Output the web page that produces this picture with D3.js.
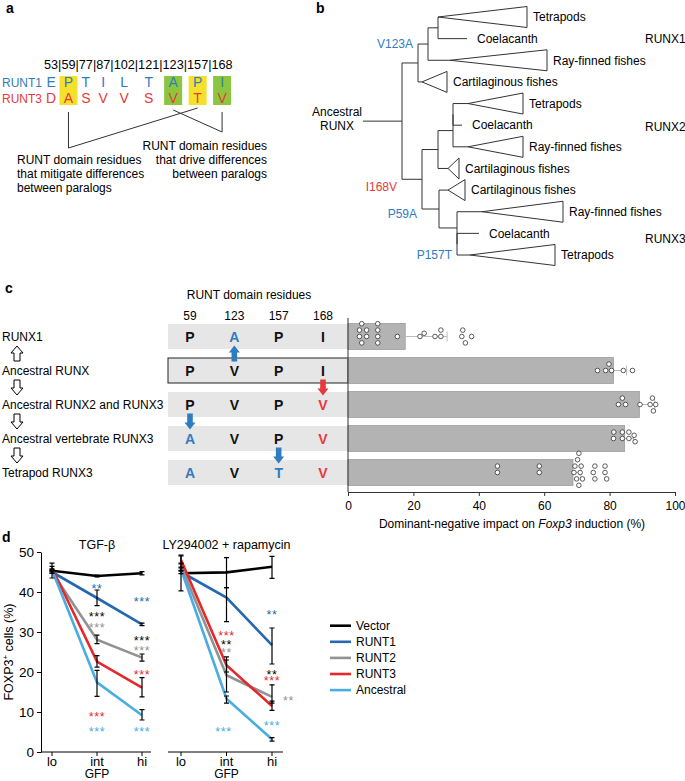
<!DOCTYPE html>
<html>
<head>
<meta charset="utf-8">
<script src="https://cdn.jsdelivr.net/npm/d3@7"></script>
<style>
body { margin: 0; background: #fff; }
svg { font-family: "Liberation Sans", Arial, sans-serif; }
</style>
</head>
<body>
<svg width="685" height="781"></svg>
<script>
// ---------- panel a data ----------
var sitePositions = ['53', '59', '77', '87', '102', '121', '123', '157', '168'];
var runt1Residues = ['E', 'P', 'T', 'I', 'L', 'T', 'A', 'P', 'I'];
var runt3Residues = ['D', 'A', 'S', 'V', 'V', 'S', 'V', 'T', 'V'];
var siteGroup = ['', 'mitigate', '', '', '', '', 'drive', 'mitigate', 'drive'];

// ---------- panel b data ----------
var leafNames = ['Tetrapods', 'Coelacanth', 'Ray-finned fishes', 'Cartilaginous fishes',
                 'Tetrapods', 'Coelacanth', 'Ray-finned fishes', 'Cartilaginous fishes',
                 'Cartilaginous fishes', 'Ray-finned fishes', 'Coelacanth', 'Tetrapods'];
var cladeNames = ['RUNX1', 'RUNX2', 'RUNX3'];
var cladeAtLeaf = [1.0, 5.05, 10.25];
// d = distance from the stem, end = far edge of a collapsed clade
var tree = {d: 19.5, children: [
  {d: 27.5, children: [
    {d: 32.5, mut: 'V123A', children: [
      {d: 37.5, children: [{leaf: 0, d: 37.5, end: 82}, {leaf: 1, d: 52}]},
      {leaf: 2, d: 43.5, end: 92}
    ]},
    {leaf: 3, d: 29.5, end: 42}
  ]},
  {d: 29.5, mut: 'I168V', children: [
    {d: 37.5, children: [
      {d: 45, children: [
        {d: 45, children: [{leaf: 4, d: 52.5, end: 80}, {leaf: 5, d: 49.5}]},
        {leaf: 6, d: 52.5, end: 80}
      ]},
      {leaf: 7, d: 42.5, end: 48}
    ]},
    {d: 38, mut: 'P59A', children: [
      {leaf: 8, d: 42.5, end: 51},
      {d: 47, children: [
        {leaf: 9, d: 59.5, end: 100},
        {d: 47, children: [{leaf: 10, d: 58}, {leaf: 11, d: 53.5, end: 96, mut: 'P157T'}]}
      ]}
    ]}
  ]}
]};
var mutationColour = {V123A: 'blue', I168V: 'red', P59A: 'blue', P157T: 'blue'};

// ---------- panel c data ----------
var residueSites = ['59', '123', '157', '168'];
var lineages = ['RUNX1', 'Ancestral RUNX', 'Ancestral RUNX2 and RUNX3', 'Ancestral vertebrate RUNX3', 'Tetrapod RUNX3'];
var lineageResidues = [['P', 'A', 'P', 'I'], ['P', 'V', 'P', 'I'], ['P', 'V', 'P', 'V'], ['A', 'V', 'P', 'V'], ['A', 'V', 'T', 'V']];
var residueTone = [['k', 'b', 'k', 'k'], ['k', 'k', 'k', 'k'], ['k', 'k', 'k', 'r'], ['b', 'k', 'k', 'r'], ['b', 'k', 'b', 'r']];
// substitutions: site, from lineage, to lineage, tone
var substitutions = [['123', 1, 0, 'b'], ['168', 1, 2, 'r'], ['59', 2, 3, 'b'], ['157', 3, 4, 'b']];
var impactMean = [17.5, 81.2, 89.1, 84.6, 68.8];
var impactErr = [30.3, 85.2, 93.8, 87.3, 71.2];
var impactPoints = [
  [3.5, 3.5, 4.2, 4.2, 5.7, 5.7, 9.1, 9.1, 9.1, 9.1, 15.1, 22.0, 23.3, 26.6, 28.4, 28.4, 34.8, 35.1, 35.9, 37.8],
  [76.3, 78.8, 79.8, 80.6, 84.2, 87.0],
  [82.7, 83.9, 84.9, 89.3, 92.4, 93.1, 93.4, 94.1],
  [81.2, 81.3, 83.9, 83.9, 85.9, 85.9, 87.5, 87.8],
  [45.7, 45.7, 58.5, 58.5, 69.1, 69.4, 69.9, 70.2, 70.6, 70.6, 71.0, 71.3, 71.7, 75.0, 75.5, 75.5, 78.6, 78.6, 79.1]
];
var impactTicks = [0, 20, 40, 60, 80, 100];

// ---------- panel d data ----------
var gfpLevels = ['lo', 'int', 'hi'];
var constructs = ['Vector', 'RUNT1', 'RUNT2', 'RUNT3', 'Ancestral'];
var foxp3Ticks = [0, 10, 20, 30, 40, 50];
var tgfMean = [[45.3, 44.0, 44.7], [45.0, 38.5, 31.9], [45.0, 28.1, 23.6], [46.0, 22.6, 16.1], [45.5, 17.4, 9.2]];
var tgfLow  = [[43.5, 43.8, 44.3], [44.7, 36.6, 31.6], [44.7, 27.1, 22.7], [45.6, 21.2, 13.8], [45.2, 13.9, 8.0]];
var tgfHigh = [[47.2, 44.2, 45.1], [45.3, 40.5, 32.2], [45.3, 29.2, 24.5], [46.4, 24.1, 18.6], [45.8, 20.4, 10.6]];
var lyMean = [[44.7, 44.9, 46.3], [45.0, 38.6, 26.7], [46.5, 19.2, 13.8], [48.0, 21.7, 11.5], [45.7, 13.3, 3.2]];
var lyLow  = [[40.3, 41.1, 43.4], [44.6, 32.6, 22.0], [46.0, 15.0, 12.2], [47.2, 20.0, 10.4], [45.2, 12.2, 2.7]];
var lyHigh = [[49.0, 48.6, 48.9], [45.4, 41.1, 31.0], [47.0, 23.0, 16.8], [49.2, 23.8, 12.7], [46.2, 14.0, 3.6]];
// stars: level, construct colour, text, height (%)
var tgfStars = [[1, 1, '**', 41.5], [1, 0, '***', 34.5], [1, 2, '***', 31.75], [1, 3, '***', 9.4], [1, 4, '***', 5.7],
                [2, 1, '***', 38.2], [2, 0, '***', 28.6], [2, 2, '***', 26.1], [2, 3, '***', 19.9], [2, 4, '***', 5.7]];
var lyStars = [[1, 3, '***', 29.7], [1, 0, '**', 27.6], [1, 2, '**', 25.5], [1, 4, '***', 5.75],
               [2, 1, '**', 35.1], [2, 0, '**', 20.1], [2, 3, '***', 18.4], [2, 2, '**', 13.4], [2, 4, '***', 7.2]];
var lyStarShift = [0, 0, 0, -3, 0, 0, 0, 11, 0];

var blue = '#2f7cc0', red = '#e6393a';
var tone = {k: '#111', b: blue, r: red};
var constructColour = ['#000', '#2568b0', '#929292', '#e5282c', '#48ade2'];

var svg = d3.select('svg');

function panelLetter(x, y, s) {
  svg.append('text').attr('x', x).attr('y', y)
    .style('font-weight', 'bold').style('font-size', '14px').text(s);
}

// ================= panel a =================
panelLetter(6, 13, 'a');
var header = svg.append('text')
    .attr('x', 44).attr('y', 69)
    .style('font-size', '12.7px')
    .text(sitePositions.join('|'));
var siteX = [], charPos = 0;
sitePositions.forEach(function(s) {
  var n = header.node();
  var x0 = n.getStartPositionOfChar(charPos).x;
  var x1 = n.getEndPositionOfChar(charPos + s.length - 1).x;
  siteX.push((x0 + x1) / 2);
  charPos += s.length + 1;
});

svg.selectAll('.sitebox')
    .data(siteGroup.map(function(g, i) { return {g: g, i: i}; }).filter(function(d) { return d.g; }))
  .enter().append('rect')
    .attr('x', function(d) { return siteX[d.i] - 9; })
    .attr('y', 76)
    .attr('width', 18)
    .attr('height', 29)
    .style('fill', function(d) { return d.g == 'mitigate' ? '#f5e12c' : '#8cc63f'; });

svg.append('text').attr('x', 2).attr('y', 86.5).style('font-size', '12px').style('fill', blue).text('RUNT1');
svg.append('text').attr('x', 2).attr('y', 102.5).style('font-size', '12px').style('fill', red).text('RUNT3');

[[runt1Residues, 87, blue], [runt3Residues, 103, red]].forEach(function(r) {
  svg.selectAll(null).data(r[0]).enter().append('text')
      .attr('x', function(d, i) { return siteX[i]; })
      .attr('y', r[1])
      .attr('text-anchor', 'middle')
      .style('font-size', '14px')
      .style('fill', r[2])
      .text(function(d) { return d; });
});

var mit = [], drv = [];
siteGroup.forEach(function(g, i) { if (g == 'mitigate') mit.push(siteX[i]); if (g == 'drive') drv.push(siteX[i]); });
svg.append('path')
    .attr('d', 'M' + mit[0] + ',112V148L' + mit[1] + ',108')
    .style('fill', 'none').style('stroke', '#333').style('stroke-width', 1);
svg.append('path')
    .attr('d', 'M' + drv[0] + ',110L' + drv[1] + ',132V112')
    .style('fill', 'none').style('stroke', '#333').style('stroke-width', 1);

['RUNT domain residues', 'that drive differences', 'between paralogs'].forEach(function(t, i) {
  svg.append('text').attr('x', 267).attr('y', 150 + i * 14)
      .attr('text-anchor', 'end').style('font-size', '12px').text(t);
});
['RUNT domain residues', 'that mitigate differences', 'between paralogs'].forEach(function(t, i) {
  svg.append('text').attr('x', 17).attr('y', 164 + i * 14)
      .style('font-size', '12px').text(t);
});

// ================= panel b =================
panelLetter(316, 13, 'b');
var tx = d3.scaleLinear().domain([0, 100]).range([363, 563]);
var ty = d3.scaleLinear().domain([0, 11]).range([17, 255]);
var root = d3.hierarchy(tree);
root.eachAfter(function(n) {
  n.y = n.children ? d3.mean(n.children, function(c) { return c.y; }) : ty(n.data.leaf);
});
var gb = svg.append('g').style('stroke', '#333').style('stroke-width', 1).style('fill', 'none');
gb.append('line').attr('x1', tx(0)).attr('x2', tx(root.data.d)).attr('y1', root.y).attr('y2', root.y);
root.descendants().filter(function(n) { return n.children; }).forEach(function(n) {
  var ys = n.children.map(function(c) { return c.y; });
  gb.append('line').attr('x1', tx(n.data.d)).attr('x2', tx(n.data.d))
      .attr('y1', d3.min(ys)).attr('y2', d3.max(ys));
});
root.links().forEach(function(l) {
  gb.append('line').attr('x1', tx(l.source.data.d)).attr('x2', tx(l.target.data.d))
      .attr('y1', l.target.y).attr('y2', l.target.y);
});
root.leaves().forEach(function(n) {
  var labelX;
  if (n.data.end) {
    var ax = tx(n.data.d), bx = tx(n.data.end);
    gb.append('path')
        .attr('d', 'M' + ax + ',' + n.y + 'L' + bx + ',' + (n.y - 10.5) + 'V' + (n.y + 10.5) + 'Z');
    labelX = bx + 6;
  } else {
    labelX = tx(n.data.d) + 10;
  }
  svg.append('text').attr('x', labelX).attr('y', n.y + 4.3)
      .style('font-size', '12px').text(leafNames[n.data.leaf]);
});
var mutNudge = {I168V: 7, P59A: 4.5};
root.descendants().filter(function(n) { return n.data.mut; }).forEach(function(n) {
  svg.append('text')
      .attr('x', tx(n.parent.data.d) - 5)
      .attr('y', n.y + 4.3 + (mutNudge[n.data.mut] || 0))
      .attr('text-anchor', 'end')
      .style('font-size', '12px')
      .style('fill', mutationColour[n.data.mut] == 'red' ? red : blue)
      .text(n.data.mut);
});
svg.append('text').attr('x', 337).attr('y', 116).attr('text-anchor', 'middle').style('font-size', '12px').text('Ancestral');
svg.append('text').attr('x', 337).attr('y', 130).attr('text-anchor', 'middle').style('font-size', '12px').text('RUNX');
cladeNames.forEach(function(c, i) {
  svg.append('text').attr('x', 645).attr('y', ty(cladeAtLeaf[i]) + 4.3).style('font-size', '12px').text(c);
});

// ================= panel c =================
panelLetter(5, 293, 'c');
var colX = d3.scalePoint().domain(residueSites).range([190, 323]);
var rowY = d3.scalePoint().domain(lineages).range([336.5, 472.5]);
var xImpact = d3.scaleLinear().domain([0, 100]).range([348, 675]);

svg.append('text').attr('x', 249).attr('y', 299).attr('text-anchor', 'middle')
    .style('font-size', '12px').text('RUNT domain residues');
svg.selectAll(null).data(residueSites).enter().append('text')
    .attr('x', function(d) { return colX(d); })
    .attr('y', 319.5)
    .attr('text-anchor', 'middle')
    .style('font-size', '12px')
    .text(function(d) { return d; });

svg.selectAll(null).data(lineages).enter().append('rect')
    .attr('x', 168)
    .attr('y', function(d) { return rowY(d) - 12.5; })
    .attr('width', xImpact(0) - 168)
    .attr('height', 25)
    .style('fill', '#e6e6e6')
    .style('stroke', function(d, i) { return i == 1 ? '#222' : 'none'; })
    .style('stroke-width', 1);

lineages.forEach(function(l, i) {
  svg.append('text').attr('x', 2).attr('y', rowY(l) + 4.3).style('font-size', '12px').text(l);
  svg.selectAll(null).data(lineageResidues[i]).enter().append('text')
      .attr('x', function(d, j) { return colX(residueSites[j]); })
      .attr('y', rowY(l) + 5)
      .attr('text-anchor', 'middle')
      .style('font-size', '14px')
      .style('font-weight', 'bold')
      .style('fill', function(d, j) { return tone[residueTone[i][j]]; })
      .text(function(d) { return d; });
});

function arrowPath(cx, cy, dir, len, headW, headL, shaftW) {
  var t = cy - dir * len / 2, b = cy + dir * len / 2, h = t + dir * headL;
  return 'M' + cx + ',' + t + 'L' + (cx + headW) + ',' + h + 'L' + (cx + shaftW) + ',' + h +
    'L' + (cx + shaftW) + ',' + b + 'L' + (cx - shaftW) + ',' + b + 'L' + (cx - shaftW) + ',' + h +
    'L' + (cx - headW) + ',' + h + 'Z';
}
// hollow lineage arrows
for (var i = 0; i < lineages.length - 1; i++) {
  var mid = (rowY(lineages[i]) + rowY(lineages[i + 1])) / 2;
  svg.append('path')
      .attr('d', arrowPath(17, mid, i == 0 ? 1 : -1, 15, 6, 7, 3))
      .style('fill', '#fff').style('stroke', '#000').style('stroke-width', 1);
}
substitutions.forEach(function(s) {
  var y0 = rowY(lineages[s[1]]), y1 = rowY(lineages[s[2]]);
  svg.append('path')
      .attr('d', arrowPath(colX(s[0]), (y0 + y1) / 2, y1 < y0 ? 1 : -1, 16, 5.5, 7, 2.8))
      .style('fill', tone[s[3]]);
});

// bars
svg.selectAll('.bar').data(impactMean).enter().append('rect')
    .attr('x', xImpact(0))
    .attr('y', function(d, i) { return rowY(lineages[i]) - 13; })
    .attr('width', function(d) { return xImpact(d) - xImpact(0); })
    .attr('height', 26)
    .style('fill', '#b3b3b3')
    .style('stroke', '#9d9d9d')
    .style('stroke-width', 0.8);
impactMean.forEach(function(m, i) {
  var y = rowY(lineages[i]);
  svg.append('line').attr('x1', xImpact(m)).attr('x2', xImpact(impactErr[i])).attr('y1', y).attr('y2', y)
      .style('stroke', '#bdbdbd').style('stroke-width', 1);
  svg.append('line').attr('x1', xImpact(impactErr[i])).attr('x2', xImpact(impactErr[i])).attr('y1', y - 5).attr('y2', y + 5)
      .style('stroke', '#bdbdbd').style('stroke-width', 1);
});
function swarm(values, cy) {
  var placed = [];
  values.slice().sort(d3.ascending).forEach(function(v) {
    var px = xImpact(v);
    for (var k = 0; k < 30; k++) {
      var dy = (k % 2 ? -1 : 1) * Math.ceil(k / 2) * 3.2;
      var hit = placed.some(function(p) { return Math.hypot(p.x - px, p.y - (cy + dy)) < 5.3; });
      if (!hit) { placed.push({x: px, y: cy + dy}); break; }
    }
  });
  return placed;
}
impactPoints.forEach(function(vals, i) {
  svg.selectAll(null).data(swarm(vals, rowY(lineages[i]))).enter().append('circle')
      .attr('cx', function(d) { return d.x; })
      .attr('cy', function(d) { return d.y; })
      .attr('r', 2.3)
      .style('fill', '#fff')
      .style('stroke', '#333')
      .style('stroke-width', 0.8);
});
svg.append('line').attr('x1', xImpact(0)).attr('x2', xImpact(0)).attr('y1', 318).attr('y2', 492)
    .style('stroke', '#333').style('stroke-width', 1);
var ax = svg.append('g').attr('transform', 'translate(0,492)')
    .call(d3.axisBottom(xImpact).tickValues(impactTicks).tickSize(4).tickSizeOuter(0));
ax.selectAll('text').style('font-size', '12px').style('font-family', '"Liberation Sans", Arial, sans-serif').attr('dy', '0.9em');
ax.selectAll('path, line').style('stroke', '#333');
var xl = svg.append('text').attr('x', 512).attr('y', 528).attr('text-anchor', 'middle').style('font-size', '12px');
xl.append('tspan').text('Dominant-negative impact on ');
xl.append('tspan').style('font-style', 'italic').text('Foxp3');
xl.append('tspan').text(' induction (%)');

// ================= panel d =================
panelLetter(2, 542, 'd');
var yF = d3.scaleLinear().domain([0, 50]).range([752, 552]);
var charts = [
  {title: 'TGF-β', mean: tgfMean, low: tgfLow, high: tgfHigh, stars: tgfStars, shift: null, range: [52, 142], axis: [41, 151]},
  {title: 'LY294002 + rapamycin', mean: lyMean, low: lyLow, high: lyHigh, stars: lyStars, shift: lyStarShift, range: [181, 272], axis: [168, 283]}
];
var yAx = svg.append('g').attr('transform', 'translate(41,0)')
    .call(d3.axisLeft(yF).tickValues(foxp3Ticks).tickSize(4).tickSizeOuter(0));
yAx.selectAll('text').style('font-size', '13.5px').style('font-family', '"Liberation Sans", Arial, sans-serif');
yAx.selectAll('path, line').style('stroke', '#000');

var yl = svg.append('text').attr('transform', 'translate(13,652) rotate(-90)')
    .attr('text-anchor', 'middle').style('font-size', '12.5px');
yl.append('tspan').text('FOXP3');
yl.append('tspan').attr('dy', -5).style('font-size', '8px').text('+');
yl.append('tspan').attr('dy', 5).text(' cells (%)');

charts.forEach(function(c) {
  var x = d3.scalePoint().domain(gfpLevels).range(c.range);
  var g = svg.append('g');
  g.append('line').attr('x1', c.axis[0]).attr('x2', c.axis[1]).attr('y1', 752).attr('y2', 752)
      .style('stroke', '#000').style('stroke-width', 1);
  gfpLevels.forEach(function(l) {
    g.append('line').attr('x1', x(l)).attr('x2', x(l)).attr('y1', 752).attr('y2', 756).style('stroke', '#000');
    g.append('text').attr('x', x(l)).attr('y', 766).attr('text-anchor', 'middle').style('font-size', '13px').text(l);
  });
  g.append('text').attr('x', x('int')).attr('y', 778).attr('text-anchor', 'middle').style('font-size', '12px').text('GFP');
  g.append('text').attr('x', x('int')).attr('y', 549).attr('text-anchor', 'middle').style('font-size', '12.5px').text(c.title);

  var line = d3.line().x(function(d, i) { return x(gfpLevels[i]); }).y(function(d) { return yF(d); });
  c.mean.forEach(function(s, k) {
    g.append('path').attr('d', line(s))
        .style('fill', 'none').style('stroke', constructColour[k]).style('stroke-width', 2.6);
  });
  c.mean.forEach(function(s, k) {
    s.forEach(function(v, i) {
      var px = x(gfpLevels[i]), lo = yF(c.low[k][i]), hi = yF(c.high[k][i]);
      g.append('path')
          .attr('d', 'M' + px + ',' + lo + 'V' + hi + 'M' + (px - 2.5) + ',' + lo + 'h5M' + (px - 2.5) + ',' + hi + 'h5')
          .style('fill', 'none').style('stroke', '#000').style('stroke-width', 1.2);
    });
  });
  c.stars.forEach(function(s, j) {
    var dx = c.shift ? c.shift[j] : 0;
    g.append('text')
        .attr('x', x(gfpLevels[s[0]]) + dx)
        .attr('y', yF(s[3]) + 7)
        .attr('text-anchor', dx > 5 ? 'start' : 'middle')
        .style('font-size', '12.5px')
        .style('letter-spacing', '0.6px')
        .style('fill', constructColour[s[1]])
        .text(s[2]);
  });
});

// legend
constructs.forEach(function(n, k) {
  var y = 625.7 + k * 16.1;
  svg.append('line').attr('x1', 330).attr('x2', 351).attr('y1', y).attr('y2', y)
      .style('stroke', constructColour[k]).style('stroke-width', 2.6);
  svg.append('text').attr('x', 356).attr('y', y + 4.3).style('font-size', '12px').text(n);
});
</script>
</body>
</html>
